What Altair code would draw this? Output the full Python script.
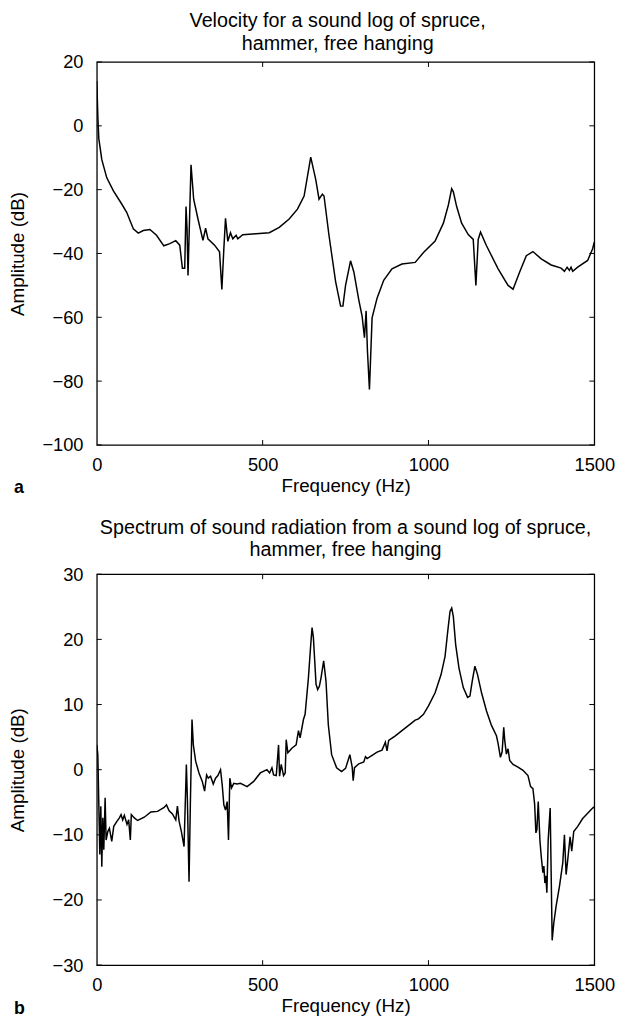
import altair as alt
import pandas as pd

# ---- data: panel a (velocity) ----
freq_a = [0, 3, 6, 15, 30, 50, 75, 90, 110, 125, 140, 160, 180, 202, 220, 238, 250, 258, 265, 269,
          272, 275, 284, 292, 305, 320, 328, 335, 355, 370, 377, 383, 388, 395, 403, 410, 420, 425,
          440, 480, 520, 550, 580, 605, 625, 645, 660, 670, 680, 685, 700, 720, 735, 742, 750, 765,
          775, 790, 800, 807, 812, 816, 822, 830, 845, 865, 890, 920, 960, 985, 1020, 1045, 1060,
          1070, 1075, 1085, 1100, 1120, 1135, 1143, 1150, 1157, 1175, 1210, 1240, 1255, 1275, 1295,
          1315, 1340, 1370, 1400, 1410, 1418, 1425, 1430, 1435, 1450, 1480, 1495, 1500]
amp_a = [14, 3, -4, -10.6, -16.3, -20.4, -24.5, -27.1, -32.3, -33.6, -32.8, -32.5, -34.3, -37.6,
         -36.9, -36.0, -37.4, -44.6, -44.6, -25.3, -32.3, -46.9, -12.2, -23.0, -29.2, -35.9, -32.1,
         -35.4, -37.4, -39.5, -51.3, -38.5, -29.0, -36.2, -33.5, -35.4, -34.3, -35.4, -34.1, -33.8,
         -33.5, -31.8, -29.2, -26.1, -22.0, -9.8, -16.8, -23.0, -21.4, -22.0, -34.3, -48.8, -56.5,
         -56.5, -50.0, -42.3, -45.8, -54.6, -59.7, -66.4, -58.0, -70.5, -82.6, -60.2, -54.0, -48.4,
         -44.8, -43.3, -42.8, -39.7, -36.1, -30.5, -24.8, -19.7, -20.7, -25.3, -30.5, -34.1, -35.6,
         -50.0, -35.6, -33.3, -37.6, -44.8, -50.0, -51.2, -45.8, -40.7, -39.4, -41.7, -43.6, -44.6,
         -45.6, -44.3, -45.3, -44.3, -45.6, -44.3, -42.2, -38.5, -36.5]

# ---- data: panel b (sound radiation) ----
freq_b = [0, 3, 6, 9, 12, 15, 18, 21, 25, 28, 33, 38, 45, 51, 61, 68, 73, 78, 83, 91, 96, 101, 104,
          113, 123, 143, 163, 183, 203, 210, 218, 228, 238, 243, 248, 255, 263, 270, 273, 278, 282,
          287, 291, 298, 308, 318, 325, 331, 336, 343, 351, 358, 365, 373, 378, 383, 388, 393, 397,
          401, 406, 413, 423, 433, 453, 473, 493, 513, 521, 528, 533, 541, 548, 551, 556, 563, 568,
          571, 576, 588, 601, 608, 613, 623, 628, 638, 645, 649, 653, 661, 666, 671, 676, 684, 691,
          698, 708, 723, 738, 750, 763, 770, 773, 777, 790, 805, 810, 815, 830, 845, 860, 870, 875,
          880, 900, 920, 945, 960, 970, 985, 1000, 1020, 1038, 1050, 1058, 1065, 1070, 1075, 1082,
          1092, 1105, 1118, 1125, 1132, 1140, 1148, 1160, 1175, 1190, 1205, 1210, 1217, 1222, 1227,
          1230, 1235, 1240, 1245, 1255, 1270, 1285, 1300, 1308, 1315, 1320, 1324, 1327, 1331, 1336,
          1340, 1345, 1348, 1351, 1354, 1357, 1361, 1367, 1373, 1378, 1385, 1395, 1405, 1410, 1415,
          1420, 1427, 1432, 1438, 1450, 1465, 1480, 1495, 1500]
amp_b = [3.8, 2.3, -5.4, -13.0, -5.6, -14.9, -7.4, -12.3, -4.3, -10.8, -9.5, -9.0, -11.0, -8.7,
         -7.9, -7.4, -6.9, -7.7, -7.0, -8.4, -7.7, -10.8, -6.9, -7.4, -7.8, -7.3, -6.5, -6.4, -5.8,
         -5.4, -6.3, -6.8, -7.7, -5.6, -7.9, -9.5, -11.8, 0.8, -4.4, -17.2, -5.4, 7.7, 3.8, 1.3,
         -0.5, -1.8, -3.3, -0.8, -1.3, -1.0, -2.2, -1.3, -0.9, 0.0, -2.3, -5.4, -6.2, -4.9, -10.8,
         -1.3, -2.8, -2.1, -2.2, -2.1, -2.6, -1.8, -0.5, 0.0, -0.5, 0.3, -0.8, -0.9, 3.8, -1.0, 0.8,
         -0.9, -0.5, 4.6, 2.6, 3.3, 3.8, 6.0, 4.9, 7.7, 8.5, 14.1, 19.2, 21.8, 20.3, 13.1, 12.3,
         12.8, 14.1, 16.7, 13.6, 6.9, 2.3, 0.3, -0.3, 0.2, 2.3, 0.4, -1.7, 0.3, 0.9, 1.2, 2.0, 1.7,
         2.2, 2.7, 3.0, 4.2, 2.9, 4.5, 5.2, 6.0, 7.0, 7.6, 7.8, 8.5, 9.8, 11.8, 14.6, 17.4, 21.2,
         24.3, 24.8, 23.5, 19.2, 15.6, 12.6, 11.1, 11.3, 13.6, 15.9, 14.6, 11.8, 9.0, 6.8, 5.2, 4.0,
         1.9, 2.7, 6.5, 4.5, 2.4, 3.2, 1.4, 0.8, 0.4, -0.1, -0.9, -2.6, -2.9, -5.2, -9.7, -9.2, -4.9,
         -10.8, -13.3, -15.8, -14.8, -17.4, -16.3, -18.9, -10.8, -5.9, -26.2, -23.5, -20.9, -17.9,
         -14.3, -10.0, -16.1, -13.8, -10.3, -12.5, -9.5, -8.7, -7.5, -6.7, -5.9, -5.7]

xticks = [0, 500, 1000, 1500]
yticks_a = [20, 0, -20, -40, -60, -80, -100]
yticks_b = [30, 20, 10, 0, -10, -20, -30]
title_a = ["Velocity for a sound log of spruce,", "hammer, free hanging"]
title_b = ["Spectrum of sound radiation from a sound log of spruce,", "hammer, free hanging"]

FONT = "Liberation Sans"
LFS = 18.5   # tick labels
AFS = 19     # axis titles
TFS = 20     # chart titles
W = 504
TICK = 5


def panel(freq, amp, ydom, yticks, H, title_lines, letter, letter_dy, t1, t2, tdx):
    df = pd.DataFrame({"f": freq, "a": amp})
    xs = alt.Scale(domain=[0, 1500], nice=False, zero=False)
    ys = alt.Scale(domain=ydom, nice=False, zero=False)
    line = alt.Chart(df).mark_line(color="black", strokeWidth=1.5, clip=True).encode(
        x=alt.X("f:Q", scale=xs, title="Frequency (Hz)",
                axis=alt.Axis(values=xticks, format="d", ticks=False, domain=False, grid=False,
                              labelFontSize=LFS, labelFont=FONT, labelColor="black",
                              labelPadding=11, titleFontSize=AFS, titleFont=FONT,
                              titleFontWeight="normal", titleColor="black", titlePadding=3,
                              labelFlush=False)),
        y=alt.Y("a:Q", scale=ys, title="Amplitude (dB)",
                axis=alt.Axis(values=yticks, format="d", ticks=False, domain=False, grid=False,
                              labelFontSize=LFS, labelFont=FONT, labelColor="black",
                              labelPadding=14, titleFontSize=AFS, titleFont=FONT,
                              titleFontWeight="normal", titleColor="black",
                              titleX=-70, labelFlush=False)),
    )
    ydf = pd.DataFrame({"v": yticks})
    xdf = pd.DataFrame({"f": [500, 1000]})
    yl = alt.Chart(ydf).mark_rule(color="black", strokeWidth=1).encode(
        y=alt.Y("v:Q", scale=ys), x=alt.value(0), x2=alt.value(TICK))
    yr = alt.Chart(ydf).mark_rule(color="black", strokeWidth=1).encode(
        y=alt.Y("v:Q", scale=ys), x=alt.value(W - TICK), x2=alt.value(W))
    xb = alt.Chart(xdf).mark_rule(color="black", strokeWidth=1).encode(
        x=alt.X("f:Q", scale=xs), y=alt.value(H - TICK), y2=alt.value(H))
    xt = alt.Chart(xdf).mark_rule(color="black", strokeWidth=1).encode(
        x=alt.X("f:Q", scale=xs), y=alt.value(0), y2=alt.value(TICK))
    lab = alt.Chart(pd.DataFrame({"t": [letter]})).mark_text(
        font=FONT, fontSize=18, fontWeight="bold", align="left", baseline="middle",
        color="black").encode(x=alt.value(-84), y=alt.value(H + letter_dy), text="t:N")
    tl1 = alt.Chart(pd.DataFrame({"t": [title_lines[0]]})).mark_text(
        font=FONT, fontSize=TFS, align="center", baseline="middle", color="black").encode(
        x=alt.value(W / 2 + tdx), y=alt.value(t1), text="t:N")
    tl2 = alt.Chart(pd.DataFrame({"t": [title_lines[1]]})).mark_text(
        font=FONT, fontSize=TFS, align="center", baseline="middle", color="black").encode(
        x=alt.value(W / 2 + tdx), y=alt.value(t2), text="t:N")
    return alt.layer(line, yl, yr, xb, xt, lab, tl1, tl2).properties(width=W, height=H)


top = panel(freq_a, amp_a, [-100, 20], yticks_a, 388, title_a, "a", 44, -41, -18.5, -8)
bot = panel(freq_b, amp_b, [-30, 30], yticks_b, 396, title_b, "b", 45, -47, -24, 0)

chart = alt.vconcat(top, bot, spacing=19).properties(
    padding={"left": 0, "top": -4, "right": 0, "bottom": 0}
).configure(background="white").configure_view(stroke="#000000", strokeWidth=1.3)

chart.save("out.html", embed_options={"renderer": "svg", "actions": False})
